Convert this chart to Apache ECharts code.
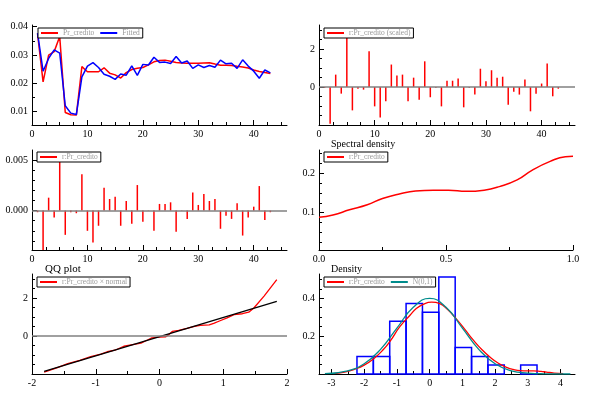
<!DOCTYPE html>
<html><head><meta charset="utf-8">
<script src="https://cdn.jsdelivr.net/npm/echarts@6/dist/echarts.min.js"></script>
<style>html,body{margin:0;padding:0;background:#fff}#c{width:600px;height:400px}</style>
</head><body><div id="c"></div>
<script>
// ---------- data ----------
const periods = [1,2,3,4,5,6,7,8,9,10,11,12,13,14,15,16,17,18,19,20,21,22,23,24,25,26,27,28,29,30,31,32,33,34,35,36,37,38,39,40,41,42,43];
const actual = [0.0375,0.0205,0.0300,0.0312,0.0365,0.0097,0.0089,0.0088,0.0259,0.0241,0.0241,0.0241,0.0255,0.0236,0.0230,0.0219,0.0238,0.0249,0.0253,0.0256,0.0265,0.0276,0.0281,0.0282,0.0278,0.0274,0.0272,0.0271,0.0271,0.0271,0.0272,0.0273,0.0268,0.0264,0.0264,0.0263,0.0260,0.0258,0.0254,0.0247,0.0242,0.0238,0.0235];
const fitted = [0.0377,0.0243,0.0288,0.0318,0.0307,0.0121,0.0095,0.0090,0.0223,0.0261,0.0273,0.0256,0.0232,0.0225,0.0214,0.0233,0.0229,0.0262,0.0228,0.0267,0.0265,0.0292,0.0274,0.0275,0.0270,0.0295,0.0272,0.0279,0.0253,0.0265,0.0256,0.0263,0.0257,0.0282,0.0269,0.0271,0.0253,0.0283,0.0261,0.0243,0.0218,0.0247,0.0237];
const residScaled = [-0.05,-1.93,0.65,-0.35,3.02,-1.23,-0.09,-0.14,1.88,-1.02,-1.60,-0.75,1.18,0.60,0.65,-0.75,0.49,-0.67,1.35,-0.54,-0.04,-1.02,0.33,0.33,0.44,-1.07,-0.04,-0.40,0.96,0.30,0.88,0.49,0.54,-0.93,-0.25,-0.40,0.39,-1.28,-0.35,0.18,1.23,-0.49,-0.09];
const resid = [-0.00016,-0.0039,0.00128,-0.00069,0.0058,-0.0024,-0.00016,-0.00026,0.0036,-0.0020,-0.00316,-0.0015,0.00227,0.00115,0.00138,-0.0015,0.00095,-0.0013,0.00253,-0.0011,-0.00003,-0.0020,0.00066,0.00066,0.00082,-0.0021,-0.00003,-0.00082,0.0018,0.00056,0.00164,0.00095,0.00115,-0.0018,-0.0005,-0.00082,0.00072,-0.00247,-0.00069,0.00039,0.00243,-0.00092,-0.00016];
const freq = [0,0.055,0.12,0.19,0.25,0.32,0.38,0.45,0.51,0.58,0.65,0.71,0.78,0.84,0.91,0.97,1.0];
const spectral = [0.088,0.094,0.107,0.120,0.136,0.148,0.155,0.157,0.157,0.154,0.157,0.166,0.183,0.208,0.230,0.242,0.243];
const qqNormal = [-1.81,-1.6,-1.44,-1.25,-1.08,-0.92,-0.82,-0.7,-0.56,-0.42,-0.29,-0.18,-0.12,0,0.1,0.14,0.2,0.3,0.43,0.55,0.64,0.78,0.85,0.95,1.06,1.17,1.3,1.4,1.48,1.64,1.84];
const qqResid = [-1.9,-1.66,-1.46,-1.28,-1.08,-0.96,-0.83,-0.75,-0.54,-0.45,-0.38,-0.2,-0.1,-0.06,-0.04,0.05,0.24,0.3,0.4,0.5,0.56,0.58,0.66,0.8,0.95,1.12,1.17,1.25,1.47,2.1,2.96];
const qqLineX = [-1.81,1.84];
const qqLineY = [-1.86,1.82];
const histEdges = [-2.22,-1.72,-1.22,-0.72,-0.22,0.28,0.78,1.28,1.78,2.28,2.78,3.28];
const histDensity = [0.093,0.093,0.279,0.372,0.326,0.512,0.140,0.093,0.047,0,0.047];
const kdX = [-2.95,-2.6,-2.3,-2.0,-1.7,-1.42,-1.2,-0.91,-0.6,-0.4,-0.2,0.06,0.31,0.55,0.82,1.1,1.33,1.6,1.84,2.1,2.35,2.6,2.76,3.0,3.16,3.4,3.57,3.8,4.08];
const kdY = [0.002,0.01,0.025,0.047,0.082,0.128,0.175,0.25,0.31,0.347,0.368,0.379,0.372,0.34,0.29,0.23,0.18,0.128,0.09,0.057,0.035,0.022,0.018,0.017,0.017,0.014,0.01,0.005,0.002];
const nX = [-3.2,-2.5,-2.0,-1.5,-1.0,-0.5,0,0.5,1.0,1.5,2.0,2.5,3.0,3.5,4.3];
const nY = [0.002,0.017,0.054,0.13,0.242,0.352,0.399,0.352,0.242,0.13,0.054,0.017,0.005,0.001,0.0];

// tick labels
const timeTicks = [0,10,20,30,40];
const timeMinor = [2.5,5,7.5,12.5,15,17.5,22.5,25,27.5,32.5,35,37.5,42.5,45];
const p1YTicks = [0.01,0.02,0.03,0.04];
const p1YMinor = [0.015,0.025,0.035];
const p2YTicks = [0,2];
const p2YMinor = [-1.5,-1,-0.5,0.5,1,1.5,2.5,3];
const p3YTicks = [0,0.005];
const p3YMinor = [-0.003,-0.002,-0.001,0.001,0.002,0.003,0.004];
const p4XTicks = [0,0.5,1];
const p4XMinor = [0.25,0.75];
const p4YTicks = [0.1,0.2];
const p4YMinor = [0.025,0.05,0.075,0.125,0.15,0.175,0.225,0.25];
const p5XTicks = [-2,-1,0,1,2];
const p5XMinor = [-1.5,-0.5,0.5,1.5];
const p5YTicks = [0,2];
const p5YMinor = [-1.5,-1,-0.5,0.5,1,1.5,2.5,3];
const p6XTicks = [-3,-2,-1,0,1,2,3,4];
const p6XMinor = [-2.5,-1.5,-0.5,0.5,1.5,2.5,3.5];
const p6YTicks = [0.2,0.4];
const p6YMinor = [0.05,0.1,0.15,0.25,0.3,0.35,0.45,0.5];

// ---------- layout ----------
const F = 'Liberation Serif';
const grids = [
  {left:32, top:25, width:255, height:100},
  {left:319, top:25, width:256, height:100},
  {left:32, top:150, width:255, height:100},
  {left:319, top:150, width:254, height:100},
  {left:32, top:274, width:255, height:100},
  {left:319, top:274, width:256, height:100}
];
function axisPair(kind, g, min, max, major, minor, fmt) {
  const pos = kind === 'x' ? 'bottom' : 'left';
  const main = {
    type:'value', gridIndex:g, position:pos, min:min, max:max, scale:true,
    axisLine:{show:true, onZero:false, lineStyle:{color:'#000', width:1}},
    axisTick:{show:true, inside:true, length:5, customValues:major, lineStyle:{color:'#000', width:1}},
    axisLabel:{show:true, customValues:major, margin:4, color:'#000', fontFamily:F, fontSize:10,
      formatter: fmt || (v => String(v))},
    splitLine:{show:false}
  };
  const mnr = {
    type:'value', gridIndex:g, position:pos, min:min, max:max, scale:true,
    axisLine:{show:false, onZero:false},
    axisTick:{show:true, inside:true, length:3, customValues:minor, lineStyle:{color:'#000', width:1}},
    axisLabel:{show:false},
    splitLine:{show:false}
  };
  return [main, mnr];
}
const xAxis = [].concat(
  axisPair('x',0,0,46,timeTicks,timeMinor),
  axisPair('x',1,0,46,timeTicks,timeMinor),
  axisPair('x',2,0,46,timeTicks,timeMinor),
  axisPair('x',3,0,1,p4XTicks,p4XMinor,v=>v.toFixed(1)),
  axisPair('x',4,-2,2,p5XTicks,p5XMinor),
  axisPair('x',5,-3.38,4.44,p6XTicks,p6XMinor)
);
const yAxis = [].concat(
  axisPair('y',0,0.0053,0.0406,p1YTicks,p1YMinor,v=>v.toFixed(2)),
  axisPair('y',1,-2,3.26,p2YTicks,p2YMinor),
  axisPair('y',2,-0.0039,0.006,p3YTicks,p3YMinor,v=>v.toFixed(3)),
  axisPair('y',3,0.005,0.259,p4YTicks,p4YMinor,v=>v.toFixed(1)),
  axisPair('y',4,-2,3.26,p5YTicks,p5YMinor),
  axisPair('y',5,0,0.528,p6YTicks,p6YMinor,v=>v.toFixed(1))
);
const zeroLine = {silent:true, symbol:['none','none'], label:{show:false}, animation:false,
  lineStyle:{color:'#808080', width:1.5, type:'solid'}, data:[{yAxis:0}]};
const legendBase = {orient:'horizontal', icon:'rect', itemWidth:17, itemHeight:2, itemGap:6,
  padding:[1,3], borderColor:'#000', borderWidth:1, backgroundColor:'#fff', selectedMode:false,
  textStyle:{fontSize:7.5, color:'#999', fontFamily:F}, z:20};
const titleStyle = {fontSize:10, fontWeight:'normal', color:'#000', fontFamily:F};

const option = {
  animation:false,
  backgroundColor:'#fff',
  grid: grids,
  xAxis: xAxis,
  yAxis: yAxis,
  title: [
    {text:'Spectral density', left:331, top:139, padding:0, textStyle:titleStyle},
    {text:'QQ plot', left:45, top:264, padding:0, textStyle:Object.assign({}, titleStyle, {fontSize:11})},
    {text:'Density', left:331, top:264, padding:0, textStyle:titleStyle}
  ],
  legend: [
    Object.assign({left:38, top:28, data:['Pr_credito','Fitted']}, legendBase),
    Object.assign({left:324, top:28, data:['r:Pr_credito (scaled)']}, legendBase),
    Object.assign({left:37, top:152, data:['r:Pr_credito']}, legendBase),
    Object.assign({left:324, top:152, data:['r:Pr_credito']}, legendBase),
    Object.assign({left:37, top:277, data:['r:Pr_credito × normal']}, legendBase),
    Object.assign({left:324, top:277, data:['r:Pr_credito','N(0,1)']}, legendBase)
  ],
  series: [
    {name:'Pr_credito', type:'line', xAxisIndex:0, yAxisIndex:0, showSymbol:false,
     data: periods.map((t,i)=>[t, actual[i]]), lineStyle:{color:'#ff0000', width:1.5}, itemStyle:{color:'#ff0000'}},
    {name:'Fitted', type:'line', xAxisIndex:0, yAxisIndex:0, showSymbol:false,
     data: periods.map((t,i)=>[t, fitted[i]]), lineStyle:{color:'#0000ff', width:1.5}, itemStyle:{color:'#0000ff'}},
    {name:'r:Pr_credito (scaled)', type:'bar', xAxisIndex:2, yAxisIndex:2, barWidth:1.5,
     data: periods.map((t,i)=>[t, residScaled[i]]), itemStyle:{color:'#ff0000'}, markLine:zeroLine},
    {name:'r:Pr_credito', type:'bar', xAxisIndex:4, yAxisIndex:4, barWidth:1.5,
     data: periods.map((t,i)=>[t, resid[i]]), itemStyle:{color:'#ff0000'}, markLine:zeroLine},
    {name:'r:Pr_credito', type:'line', xAxisIndex:6, yAxisIndex:6, showSymbol:false, smooth:true,
     data: freq.map((f,i)=>[f, spectral[i]]), lineStyle:{color:'#ff0000', width:1.5}, itemStyle:{color:'#ff0000'}},
    {name:'r:Pr_credito × normal', type:'line', xAxisIndex:8, yAxisIndex:8, showSymbol:false,
     data: qqNormal.map((x,i)=>[x, qqResid[i]]), lineStyle:{color:'#ff0000', width:1.3}, itemStyle:{color:'#ff0000'}, markLine:zeroLine},
    {name:'qqref', type:'line', xAxisIndex:8, yAxisIndex:8, showSymbol:false,
     data: qqLineX.map((x,i)=>[x, qqLineY[i]]), lineStyle:{color:'#000', width:1.3}, itemStyle:{color:'#000'}},
    {name:'hist', type:'custom', xAxisIndex:10, yAxisIndex:10,
     data: histDensity.map((d,i)=>[histEdges[i], histEdges[i+1], d]).filter(d=>d[2]>0),
     encode:{x:[0,1], y:2},
     renderItem: function(params, api){
       const p0 = api.coord([api.value(0), api.value(2)]);
       const p1 = api.coord([api.value(1), 0]);
       return {type:'rect', shape:{x:p0[0], y:p0[1], width:p1[0]-p0[0], height:p1[1]-p0[1]},
         style:{fill:'none', stroke:'#0000ff', lineWidth:1.5}};
     }},
    {name:'r:Pr_credito', type:'line', xAxisIndex:10, yAxisIndex:10, showSymbol:false, smooth:true,
     data: kdX.map((x,i)=>[x, kdY[i]]), lineStyle:{color:'#ff0000', width:1.3}, itemStyle:{color:'#ff0000'}},
    {name:'N(0,1)', type:'line', xAxisIndex:10, yAxisIndex:10, showSymbol:false, smooth:true,
     data: nX.map((x,i)=>[x, nY[i]]), lineStyle:{color:'#008c8c', width:1.3}, itemStyle:{color:'#008c8c'}}
  ]
};
const chart = echarts.init(document.getElementById('c'), null, {renderer:'canvas'});
chart.setOption(option);
</script>
</body></html>
